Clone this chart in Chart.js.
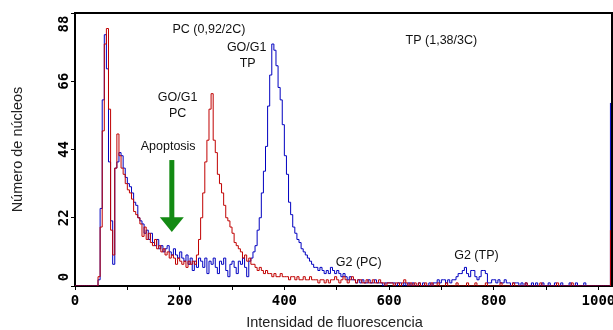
<!DOCTYPE html>
<html>
<head>
<meta charset="utf-8">
<script src="https://cdn.jsdelivr.net/npm/chart.js@4/dist/chart.umd.min.js"></script>
<style>
  html, body { margin: 0; padding: 0; background: #fff; }
</style>
</head>
<body>
<canvas id="histo" width="613" height="330"></canvas>
<script>
// histogram bins: 4 channels each, plus the overflow channel at 1023
const binWidth = 4;
const lastChannel = 1023;

const pcCounts = [
  0,0,0,0,0,0,0,0,0,0,
  0,3,19,50,78,83,57,18,10,38,
  49,42,38,36,33,31,30,28,24,23,
  22,20,16,19,15,17,14,13,15,12,
  13,11,12,10,11,9,10,9,7,9,
  8,7,8,6,8,7,8,7,10,15,
  22,30,40,47,57,62,47,43,36,33,
  30,26,22,21,19,17,14,13,12,11,
  9,10,8,9,7,7,6,5,6,5,
  4,5,4,4,3,4,3,3,4,3,
  3,3,2,3,3,2,3,2,2,3,
  2,2,3,2,2,2,1,2,2,1,
  2,1,2,2,3,2,1,2,3,2,
  1,2,3,2,1,2,2,1,1,2,
  1,1,2,1,1,2,1,1,0,1,
  1,1,0,1,1,0,1,2,1,0,
  1,0,1,0,1,0,0,1,0,0,
  1,0,0,1,0,0,0,1,0,0,
  0,0,1,0,0,0,0,1,0,0,
  0,1,0,0,0,0,1,0,0,0,
  0,0,0,1,0,0,0,0,0,1,
  0,0,0,0,0,1,0,0,0,0,
  0,0,1,0,0,0,0,0,0,0,
  1,0,0,0,0,0,0,1,0,0,
  0,0,0,0,0,0,0,0,0,0,
  0,0,0,0,0,0
];
const pcOverflow = 18;

const tpCounts = [
  0,0,0,0,0,0,0,0,0,0,
  0,2,25,60,81,70,40,21,7,38,
  40,43,42,38,35,33,32,30,27,26,
  22,21,20,17,18,15,17,14,13,15,
  12,13,11,12,13,11,10,12,10,9,
  11,9,8,10,7,9,5,8,6,9,
  8,6,9,4,8,7,9,6,4,8,
  7,9,5,3,7,8,6,4,8,7,
  9,6,3,8,9,11,13,18,22,30,
  37,45,58,68,78,76,71,64,60,52,
  42,36,27,23,19,17,15,14,12,11,
  10,9,8,7,6,6,5,6,5,4,
  5,4,6,5,4,5,4,3,4,3,
  2,3,2,2,1,2,1,2,1,1,
  2,1,1,2,1,1,1,0,1,1,
  1,1,1,0,1,1,0,1,0,1,
  0,1,0,0,1,0,1,0,0,1,
  0,1,1,2,1,2,2,1,2,1,
  2,2,3,4,4,5,6,4,3,5,
  5,3,2,3,5,5,4,1,1,2,
  2,1,2,1,1,2,1,1,0,1,
  1,1,0,1,0,1,0,0,1,0,
  1,0,0,1,0,0,1,0,0,1,
  0,0,1,0,0,0,1,0,0,1,
  0,0,0,1,0,0,0,0,0,0,
  0,0,0,0,0,0
];
const tpOverflow = 59;

const xLabels = [0, 200, 400, 600, 800, 1000];
const yLabels = [0, 22, 44, 66, 88];

// text notes placed in data units (channel, count)
const notes = [
  { text: "PC (0,92/2C)", ch: 256, count: 82.6 },
  { text: "GO/G1", ch: 328, count: 77 },
  { text: "TP", ch: 330, count: 71.8 },
  { text: "GO/G1", ch: 196, count: 60.9 },
  { text: "PC", ch: 196, count: 55.7 },
  { text: "Apoptosis", ch: 178, count: 45 },
  { text: "TP (1,38/3C)", ch: 700, count: 79.2 },
  { text: "G2 (PC)", ch: 542, count: 7.6 },
  { text: "G2 (TP)", ch: 767, count: 9.8 }
];
const arrow = { ch: 185, top: 40.6, neck: 22.2, tip: 17.4 };
const xTitle = "Intensidad de fluorescencia";

function toPoints(counts, overflow) {
  const pts = counts.map((c, i) => ({ x: i * binWidth, y: c }));
  pts.push({ x: lastChannel, y: overflow });
  return pts;
}

const tickFont = { family: "'DejaVu Sans Mono', monospace", weight: "bold", size: 14 };
const titleFont = { family: "'Liberation Sans', Arial, sans-serif", size: 14.5, lineHeight: 1 };

// black box drawn under the histogram lines
const framePlugin = {
  id: "frame",
  beforeDatasetsDraw(chart) {
    const { ctx, chartArea: a } = chart;
    ctx.save();
    ctx.strokeStyle = "#000";
    ctx.lineWidth = 2;
    ctx.strokeRect(a.left, a.top, a.right - a.left, a.bottom - a.top);
    ctx.restore();
  }
};

// rotated count labels (end ones kept inside the box) and the x title,
// which sits a little left of centre in the original
const axisTextPlugin = {
  id: "axisText",
  afterDraw(chart) {
    const { ctx, chartArea: a, scales } = chart;
    ctx.save();
    ctx.fillStyle = "#000";
    ctx.font = "bold 14px 'DejaVu Sans Mono', monospace";
    ctx.textAlign = "center";
    ctx.textBaseline = "middle";
    yLabels.forEach(v => {
      let py = scales.y.getPixelForValue(v);
      py = Math.min(Math.max(py, a.top + 11), a.bottom - 9);
      ctx.save();
      ctx.translate(a.left - 11, py);
      ctx.rotate(-Math.PI / 2);
      ctx.fillText(String(v), 0, 0);
      ctx.restore();
    });

    ctx.fillStyle = "#222";
    ctx.font = "14.5px 'Liberation Sans', Arial, sans-serif";
    ctx.fillText(xTitle, (a.left + a.right) / 2 - 9, chart.height - 7);
    ctx.restore();
  }
};

const notesPlugin = {
  id: "notes",
  afterDatasetsDraw(chart) {
    const { ctx, scales } = chart;
    ctx.save();
    ctx.fillStyle = "#111";
    ctx.font = "12.5px 'Liberation Sans', Arial, sans-serif";
    ctx.textAlign = "center";
    ctx.textBaseline = "middle";
    notes.forEach(n => {
      ctx.fillText(n.text, scales.x.getPixelForValue(n.ch), scales.y.getPixelForValue(n.count));
    });

    // green arrow pointing at the apoptosis region
    const ax = scales.x.getPixelForValue(arrow.ch);
    const yTop = scales.y.getPixelForValue(arrow.top);
    const yNeck = scales.y.getPixelForValue(arrow.neck);
    const yTip = scales.y.getPixelForValue(arrow.tip);
    ctx.fillStyle = "#138a13";
    ctx.fillRect(ax - 2.5, yTop, 5, yNeck - yTop + 1);
    ctx.beginPath();
    ctx.moveTo(ax - 12, yNeck);
    ctx.lineTo(ax + 12, yNeck);
    ctx.lineTo(ax, yTip);
    ctx.closePath();
    ctx.fill();
    ctx.restore();
  }
};

new Chart(document.getElementById("histo"), {
  type: "line",
  data: {
    datasets: [
      {
        label: "PC",
        data: toPoints(pcCounts, pcOverflow),
        borderColor: "#c00000",
        borderWidth: 1,
        pointRadius: 0,
        stepped: true,
        fill: false
      },
      {
        label: "TP",
        data: toPoints(tpCounts, tpOverflow),
        borderColor: "#0000c0",
        borderWidth: 1,
        pointRadius: 0,
        stepped: true,
        fill: false
      }
    ]
  },
  options: {
    responsive: false,
    animation: false,
    devicePixelRatio: 1,
    layout: { padding: { top: 13, right: 1, left: 0, bottom: 0 } },
    plugins: { legend: { display: false }, tooltip: { enabled: false } },
    scales: {
      x: {
        type: "linear",
        min: 0,
        max: 1026,
        afterFit: s => { s.height = 44; s.paddingLeft = 0; s.paddingRight = 0; },
        border: { display: false },
        grid: { drawOnChartArea: false, drawTicks: true, tickLength: 4, color: "#000" },
        ticks: {
          stepSize: 100,
          includeBounds: false,
          autoSkip: false,
          maxRotation: 0,
          padding: 3,
          color: "#000",
          font: tickFont,
          callback: v => xLabels.includes(v) ? String(v) : ""
        },
        title: { display: false }
      },
      y: {
        type: "linear",
        min: 0,
        max: 88,
        afterFit: s => { s.width = 75; s.paddingTop = 0; s.paddingBottom = 0; },
        border: { display: false },
        grid: { drawOnChartArea: false, drawTicks: true, tickLength: 4, color: "#000" },
        ticks: { stepSize: 22, display: false },
        title: {
          display: true,
          text: "Número de núcleos",
          color: "#222",
          font: titleFont,
          padding: { top: 11, bottom: 0 }
        }
      }
    }
  },
  plugins: [framePlugin, axisTextPlugin, notesPlugin]
});
</script>
</body>
</html>
